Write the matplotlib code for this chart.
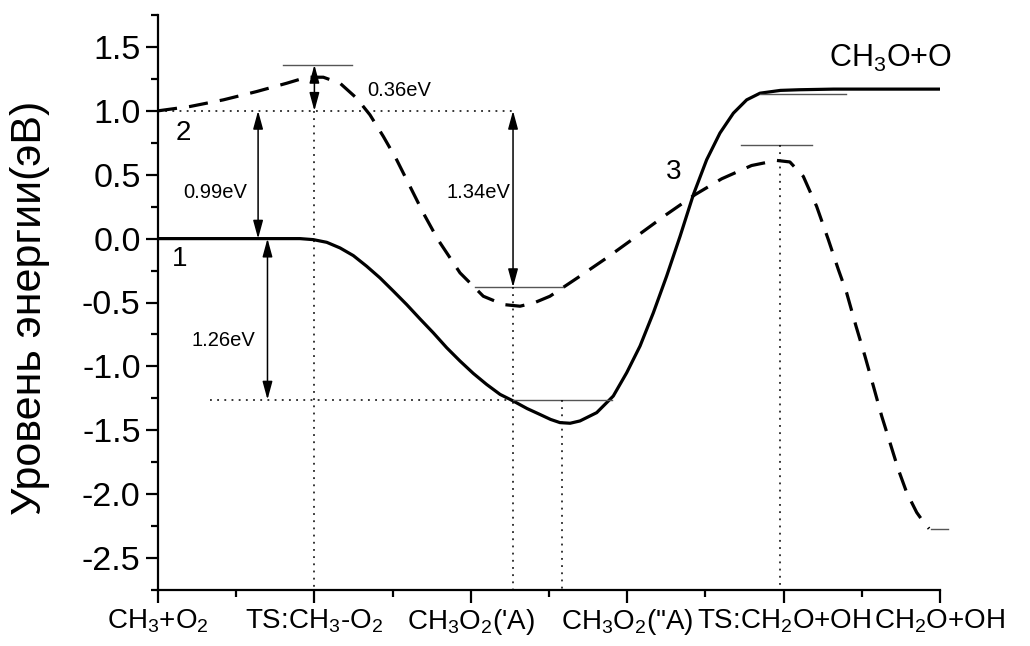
import numpy as np
import matplotlib
matplotlib.use('Agg')
import matplotlib.pyplot as plt
from matplotlib.ticker import MultipleLocator

plt.rcParams['font.family'] = ['Liberation Sans', 'DejaVu Sans']
plt.rcParams['mathtext.fontset'] = 'custom'
plt.rcParams['mathtext.rm'] = 'Liberation Sans'
plt.rcParams['mathtext.it'] = 'Liberation Sans'

# reaction coordinate labels
states = [r'CH$_3$+O$_2$', r'TS:CH$_3$-O$_2$', r"CH$_3$O$_2$('A)",
          r'CH$_3$O$_2$("A)', r'TS:CH$_2$O+OH', r'CH$_2$O+OH']

# curve 1 (solid)
x1 = [0.0, 0.5, 0.908, 0.993, 1.079, 1.164, 1.249, 1.334, 1.419, 1.505, 1.590,
      1.675, 1.760, 1.846, 1.931, 2.016, 2.101, 2.187, 2.27, 2.36, 2.44, 2.51,
      2.570, 2.635, 2.698, 2.805, 2.911, 2.997, 3.082, 3.167, 3.252, 3.338,
      3.423, 3.508, 3.593, 3.679, 3.764, 3.849, 3.98, 4.1, 4.32, 5.0]
y1 = [0.0, 0.0, 0.0, -0.008, -0.029, -0.073, -0.133, -0.216, -0.307, -0.411,
      -0.516, -0.628, -0.737, -0.854, -0.958, -1.055, -1.141, -1.219, -1.27,
      -1.33, -1.375, -1.415, -1.440, -1.445, -1.427, -1.362, -1.232, -1.049,
      -0.841, -0.581, -0.294, 0.018, 0.344, 0.617, 0.826, 0.982, 1.086, 1.138,
      1.16, 1.165, 1.17, 1.17]

# curve 2 (dashed)
x2 = [0.0, 0.205, 0.418, 0.631, 0.823, 0.951, 1.057, 1.164, 1.270, 1.355,
      1.441, 1.526, 1.611, 1.696, 1.790, 1.931, 2.080, 2.208, 2.315, 2.41,
      2.506, 2.698, 2.870, 3.060, 3.250, 3.434, 3.604, 3.795, 3.955, 4.04,
      4.126, 4.211, 4.286, 4.350, 4.403, 4.463, 4.520, 4.574, 4.627, 4.680,
      4.733, 4.787, 4.851, 4.904, 4.93]
y2 = [1.0, 1.034, 1.086, 1.151, 1.216, 1.263, 1.263, 1.216, 1.099, 0.969,
      0.799, 0.617, 0.409, 0.201, -0.008, -0.268, -0.451, -0.516, -0.529,
      -0.50, -0.451, -0.294, -0.150, 0.018, 0.188, 0.344, 0.468, 0.572, 0.612,
      0.60, 0.487, 0.253, -0.008, -0.242, -0.424, -0.685, -0.919, -1.154,
      -1.388, -1.596, -1.805, -1.987, -2.143, -2.234, -2.27]

# energy levels (x_start, x_end, y)
levels = [(0.80, 1.24, 1.36), (2.03, 2.59, -0.38), (2.27, 2.90, -1.26),
          (3.85, 4.40, 1.13), (3.73, 4.18, 0.73), (4.94, 5.05, -2.27)]

# dotted guides
hdots = [(0.0, 2.29, 1.0), (0.33, 2.27, -1.26)]
vdots = [(1.0, 1.0), (2.27, -0.38), (2.58, -1.26), (3.98, 0.73)]

# double arrows (x, y_from, y_to) and their labels
arrows = [(1.0, 1.0, 1.36), (0.64, 0.0, 1.0), (0.70, 0.0, -1.26), (2.27, 1.0, -0.38)]
gap_labels = [('0.36eV', 1.34, 1.16, 'left'), ('0.99eV', 0.364, 0.36, 'center'),
              ('1.26eV', 0.415, -0.80, 'center'), ('1.34eV', 2.255, 0.36, 'right')]

fig = plt.figure(figsize=(10.3, 6.46), dpi=100)
ax = fig.add_axes([158/1030, 56/646, 782/1030, 575/646])

ax.plot(x1, y1, color='k', lw=2.3, solid_joinstyle='round')
ax.plot(x2, y2, color='k', lw=2.3, linestyle=(0, (6, 3.8)))

for xa, xb, yy in levels:
    ax.plot([xa, xb], [yy, yy], color='#555555', lw=1.0, clip_on=False)

for xa, xb, yy in hdots:
    ax.plot([xa, xb], [yy, yy], color='k', lw=1.1, linestyle=(0, (1.2, 3.5)))
for xx, ytop in vdots:
    ax.plot([xx, xx], [ytop, -2.75], color='k', lw=1.1, linestyle=(0, (1.2, 3.5)))

for xx, ya, yb in arrows:
    ax.annotate('', xy=(xx, yb), xytext=(xx, ya),
                arrowprops=dict(arrowstyle='<|-|>,head_length=1.1,head_width=0.3',
                                color='k', lw=1.1, shrinkA=0, shrinkB=0))

for txt, tx, ty, ha in gap_labels:
    ax.text(tx, ty, txt, fontsize=14.5, ha=ha, va='center')

ax.text(0.14, -0.16, '1', fontsize=20, ha='center', va='center')
ax.text(0.16, 0.83, '2', fontsize=20, ha='center', va='center')
ax.text(3.30, 0.52, '3', fontsize=20, ha='center', va='center')
ax.text(4.68, 1.41, r'CH$_3$O+O', fontsize=22, ha='center', va='center')

ax.set_xlim(0, 5)
ax.set_ylim(-2.75, 1.75)
ax.set_xticks(range(len(states)))
ax.set_xticklabels(states, fontsize=20)
ax.xaxis.set_minor_locator(MultipleLocator(0.5))
ax.yaxis.set_minor_locator(MultipleLocator(0.25))
yt = np.arange(-2.5, 1.51, 0.5)
ax.set_yticks(yt)
ax.set_yticklabels(['%.1f' % v for v in yt], fontsize=24.5)

ax.spines['top'].set_visible(False)
ax.spines['right'].set_visible(False)
ax.spines['left'].set_linewidth(1.6)
ax.spines['bottom'].set_linewidth(1.6)
ax.tick_params(which='major', length=9, width=1.6, direction='out')
ax.tick_params(which='minor', length=5, width=1.6, direction='out')

ax.set_ylabel('Уровень энергии(эВ)', fontsize=31)
ax.yaxis.set_label_coords(-0.138, 0.49)

fig.savefig('out.png', dpi=100)
